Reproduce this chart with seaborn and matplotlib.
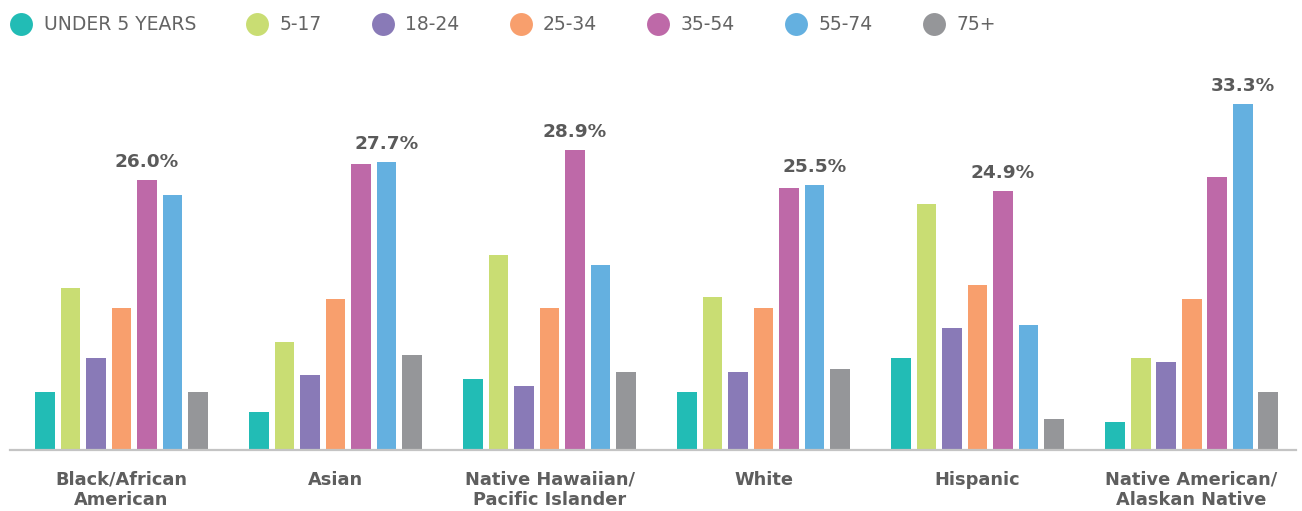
import matplotlib
matplotlib.use("Agg")
import matplotlib.pyplot as plt
from matplotlib.lines import Line2D
import seaborn as sns
import pandas as pd

# Population groups and age bands
groups = [
    "Black/African\nAmerican",
    "Asian",
    "Native Hawaiian/\nPacific Islander",
    "White",
    "Hispanic",
    "Native American/\nAlaskan Native",
]
age_bands = ["UNDER 5 YEARS", "5-17", "18-24", "25-34", "35-54", "55-74", "75+"]

# Share (%) of each group falling in each age band
under_5 = [5.6, 3.7, 6.8, 5.6, 8.9, 2.7]
age_5_17 = [15.6, 10.4, 18.8, 14.7, 23.7, 8.9]
age_18_24 = [8.9, 7.2, 6.2, 7.5, 11.7, 8.5]
age_25_34 = [13.7, 14.5, 13.7, 13.7, 15.9, 14.5]
age_35_54 = [26.0, 27.5, 28.9, 25.2, 24.9, 26.3]
age_55_74 = [24.5, 27.7, 17.8, 25.5, 12.0, 33.3]
age_75_up = [5.6, 9.1, 7.5, 7.8, 3.0, 5.6]

series = [under_5, age_5_17, age_18_24, age_25_34, age_35_54, age_55_74, age_75_up]

colors = ["#22bcb5", "#c9dd73", "#897ab7", "#f89f6d", "#be69a8", "#64b0e0", "#959699"]

rows = []
for band, vals in zip(age_bands, series):
    for g, v in zip(groups, vals):
        rows.append({"group": g, "age": band, "share": v})
df = pd.DataFrame(rows)

sns.set_theme(style="white")
plt.rcParams["font.family"] = ["DejaVu Sans"]

fig = plt.figure(figsize=(13.02, 5.11), dpi=100)
ax = fig.add_axes([10 / 1302, 61 / 511, 1286 / 1302, 390 / 511])

sns.barplot(
    data=df, x="group", y="share", hue="age",
    order=groups, hue_order=age_bands, palette=colors, saturation=1,
    width=0.834, gap=0.22, errorbar=None, linewidth=0,
    legend=False, ax=ax,
)

ax.set_xlim(-0.521, 5.488)
ax.set_ylim(0, 37.54)
ax.set_xlabel("")
ax.set_ylabel("")
ax.set_yticks([])
for side in ["top", "left", "right"]:
    ax.spines[side].set_visible(False)
ax.spines["bottom"].set_color("#c4c4c4")
ax.spines["bottom"].set_linewidth(1.6)

ax.tick_params(axis="x", length=0, pad=15)
for lbl in ax.get_xticklabels():
    lbl.set_fontweight("bold")
    lbl.set_fontsize(12.8)
    lbl.set_color("#5e5e5e")
    lbl.set_linespacing(1.15)

# Label the tallest bar in each group with its value
group_max = [max(vals) for vals in zip(*series)]
for bar in ax.patches:
    h = bar.get_height()
    cx = bar.get_x() + bar.get_width() / 2
    gi = int(round(cx))
    if 0 <= gi < len(groups) and abs(h - group_max[gi]) < 1e-9:
        ax.annotate(
            f"{h:.1f}%", xy=(cx, h), xytext=(0, 9.5), textcoords="offset points",
            ha="center", va="baseline", fontsize=13.3, fontweight="bold",
            color="#5a5a5a",
        )

handles = [
    Line2D([], [], marker="o", linestyle="none", markersize=16.5,
           markerfacecolor=c, markeredgewidth=0)
    for c in colors
]
fig.legend(
    handles, age_bands, loc="center left",
    bbox_to_anchor=(12 / 1302, 1 - 25 / 511), ncol=7, frameon=False,
    borderpad=0, borderaxespad=0, handlelength=1.0, handletextpad=0.7,
    columnspacing=2.75, prop={"size": 13.5}, labelcolor="#646464",
)

fig.savefig("out.png", dpi=100, facecolor="white")
